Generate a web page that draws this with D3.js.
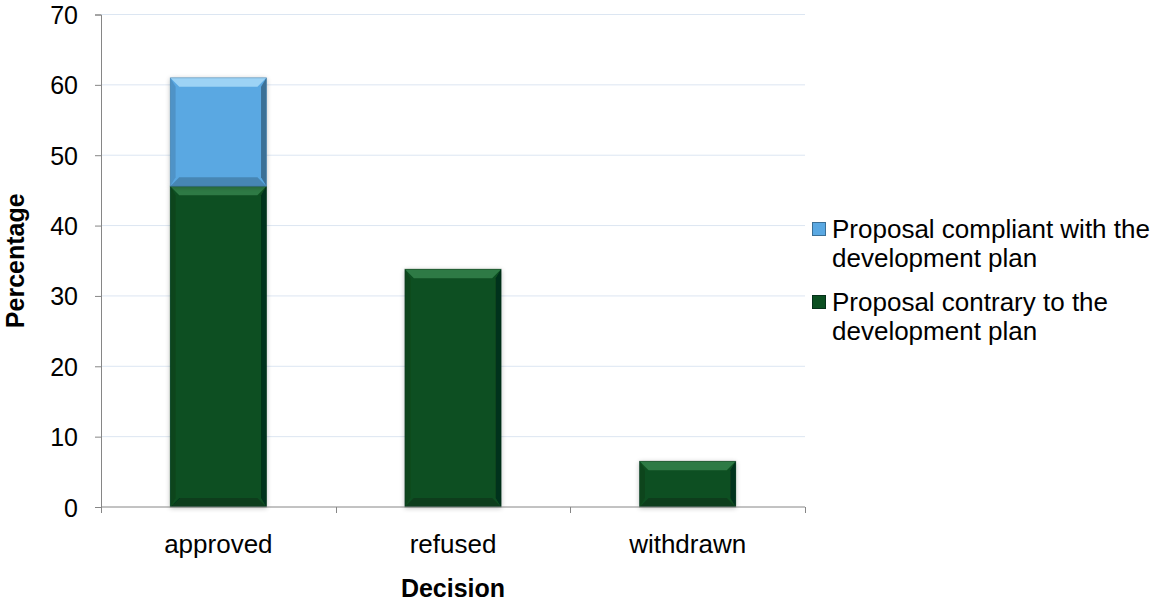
<!DOCTYPE html>
<html>
<head>
<meta charset="utf-8">
<script src="https://cdn.jsdelivr.net/npm/d3@7"></script>
<style>
  body { margin: 0; background: #fff; }
  text { font-family: "Liberation Sans", Arial, sans-serif; fill: #000; }
</style>
</head>
<body>
<svg width="1157" height="605"></svg>
<script>
const categories = ['approved', 'refused', 'withdrawn'];
const contrary = [45.6, 33.8, 6.5];
const compliant = [15.4, 0, 0];
const seriesNames = ['Proposal compliant with the development plan', 'Proposal contrary to the development plan'];
const yTicks = [0, 10, 20, 30, 40, 50, 60, 70];

const svg = d3.select('svg');
const margin = { left: 101, right: 352, top: 14.5, bottom: 98 };
const width = 1157 - margin.left - margin.right;
const height = 605 - margin.top - margin.bottom;

const x = d3.scaleBand().domain(categories).range([0, width]).paddingInner(0.59).paddingOuter(0.295);
const y = d3.scaleLinear().domain([0, 70]).range([height, 0]);

const defs = svg.append('defs');
const sh = defs.append('filter').attr('id', 'shadow').attr('x', '-20%').attr('y', '-20%').attr('width', '140%').attr('height', '140%');
sh.append('feGaussianBlur').attr('in', 'SourceAlpha').attr('stdDeviation', 2.5);
sh.append('feOffset').attr('dx', 0).attr('dy', 1).attr('result', 'b');
sh.append('feComponentTransfer').append('feFuncA').attr('type', 'linear').attr('slope', 0.25);
const mg = sh.append('feMerge');
mg.append('feMergeNode');
mg.append('feMergeNode').attr('in', 'SourceGraphic');

const g = svg.append('g').attr('transform', `translate(${margin.left},${margin.top})`);

// gridlines
g.append('g').selectAll('line').data(yTicks.slice(1)).join('line')
  .attr('x1', 0).attr('x2', width)
  .attr('y1', d => y(d)).attr('y2', d => y(d))
  .attr('stroke', '#dce6f2').attr('stroke-width', 1);

// stacked series
const rows = categories.map((c, i) => ({ cat: c, contrary: contrary[i], compliant: compliant[i] }));
const stack = d3.stack().keys(['contrary', 'compliant'])(rows);
const palettes = {
  contrary: { base: '#0b4f21', light: '#2e7a44', dark: '#05301a', side: '#083f1a' },
  compliant: { base: '#5aa8e2', light: '#9dd3f5', dark: '#3a6f96', side: '#4a86b5' }
};

const bars = g.append('g');
stack.forEach(layer => {
  const p = palettes[layer.key];
  layer.forEach(d => {
    if (d[1] - d[0] <= 0) return;
    const x0 = x(d.data.cat), bw = x.bandwidth();
    const y0 = y(d[1]), h = y(d[0]) - y(d[1]);
    const e = Math.min(9, h / 3);
    const bg = bars.append('g').attr('filter', 'url(#shadow)');
    bg.append('rect').attr('x', x0).attr('y', y0).attr('width', bw).attr('height', h).attr('fill', p.base);
    // bevel edges
    bg.append('polygon').attr('fill', p.light)
      .attr('points', [[x0, y0], [x0 + bw, y0], [x0 + bw - e, y0 + e], [x0 + e, y0 + e]].join(' '));
    bg.append('polygon').attr('fill', p.side).attr('opacity', 0.6)
      .attr('points', [[x0, y0], [x0 + e * 0.6, y0 + e], [x0 + e * 0.6, y0 + h - e], [x0, y0 + h]].join(' '));
    bg.append('polygon').attr('fill', p.dark)
      .attr('points', [[x0 + bw, y0], [x0 + bw, y0 + h], [x0 + bw - e * 0.6, y0 + h - e], [x0 + bw - e * 0.6, y0 + e]].join(' '));
    bg.append('polygon').attr('fill', p.dark).attr('opacity', 0.6)
      .attr('points', [[x0, y0 + h], [x0 + bw, y0 + h], [x0 + bw - e, y0 + h - e], [x0 + e, y0 + h - e]].join(' '));
    bg.append('rect').attr('x', x0).attr('y', y0).attr('width', bw).attr('height', h)
      .attr('fill', 'none').attr('stroke', p.dark).attr('stroke-opacity', 0.5).attr('stroke-width', 0.8);
  });
});

// axes
const yAxis = d3.axisLeft(y).tickValues(yTicks).tickSize(6).tickPadding(17);
const ya = g.append('g').call(yAxis);
ya.select('.domain').attr('stroke', '#868686').attr('d', `M-6,0.5H0.5V${height}`);
ya.selectAll('.tick line').attr('stroke', '#868686');
ya.selectAll('.tick text').style('font-size', '25px').attr('fill', '#000').attr('dy', '0.36em');

const xa = g.append('g').attr('transform', `translate(0,${height})`)
  .call(d3.axisBottom(x).tickSize(0).tickPadding(28));
xa.select('.domain').attr('stroke', '#868686').attr('d', `M0.5,0H${width}`);
xa.selectAll('.tick text').style('font-size', '26px').attr('fill', '#000');
xa.selectAll('.sep').data(d3.range(categories.length + 1)).join('line')
  .attr('x1', i => Math.round(i * width / categories.length) + 0.5)
  .attr('x2', i => Math.round(i * width / categories.length) + 0.5)
  .attr('y1', 0).attr('y2', 6).attr('stroke', '#868686');

// axis titles
svg.append('text').attr('x', margin.left + width / 2).attr('y', 597)
  .attr('text-anchor', 'middle').style('font-size', '25px').style('font-weight', 'bold').text('Decision');
svg.append('text').attr('transform', `translate(24,${margin.top + height / 2}) rotate(-90)`)
  .attr('text-anchor', 'middle').style('font-size', '25px').style('font-weight', 'bold').text('Percentage');

// legend
const legend = svg.append('g').attr('transform', 'translate(812,0)');
const legendItems = [
  { lines: ['Proposal compliant with the', 'development plan'], p: palettes.compliant, y: 238 },
  { lines: ['Proposal contrary to the', 'development plan'], p: palettes.contrary, y: 311 }
];
legendItems.forEach(it => {
  legend.append('rect').attr('x', 0.5).attr('y', it.y - 15.5).attr('width', 13).attr('height', 13)
    .attr('fill', it.p.base).attr('stroke', it.p.dark).attr('stroke-width', 1);
  const t = legend.append('text').attr('x', 20).attr('y', it.y).style('font-size', '26px');
  it.lines.forEach((l, i) => t.append('tspan').attr('x', 20).attr('dy', i === 0 ? 0 : 29).text(l));
});
</script>
</body>
</html>
